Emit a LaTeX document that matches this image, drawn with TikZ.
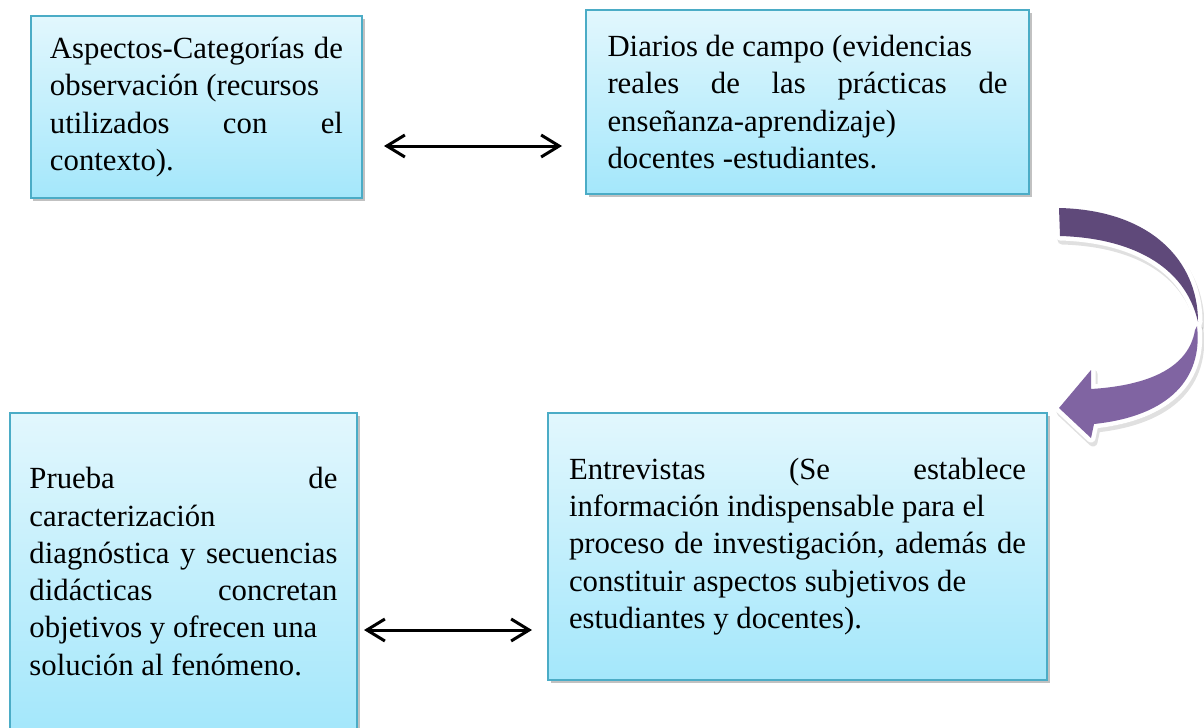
\documentclass[tikz,border=0pt]{standalone}
\usepackage{fontspec}
\setmainfont{Liberation Serif}
\usetikzlibrary{arrows.meta,shadows}
\definecolor{boxtop}{HTML}{E2F7FD}
\definecolor{boxbot}{HTML}{A4E7FB}
\definecolor{boxline}{HTML}{4BACC6}
\definecolor{purdark}{HTML}{5F497A}
\definecolor{purlight}{HTML}{8064A2}
\hyphenpenalty=10000
\begin{document}
\begin{tikzpicture}[x=0.2mm,y=-0.2mm,
  box/.style={rectangle, draw=boxline, line width=0.4mm, top color=boxtop, bottom color=boxbot,
    drop shadow={shadow xshift=0.5mm, shadow yshift=-0.6mm, opacity=0.35, fill=black!70},
    inner sep=0pt, align=justify, font=\fontsize{17.5}{21.2}\selectfont},
  link/.style={{Straight Barb[length=3.6mm,width=4.4mm]}-{Straight Barb[length=3.6mm,width=4.4mm]}, line width=0.6mm},
  curvearrow/.style={preaction={draw=white, line width=1.8mm, line join=round}},
  curveshadow/.style={draw=black, fill=black, line width=1.8mm, line join=round, opacity=0.12}]
\useasboundingbox (0,0) rectangle (1204,727);
\node [box, minimum width=66.2mm, minimum height=36.4mm, text width=58.6mm] (obs) at (196.5,107)
  {Aspectos-Categorías de\linebreak observación (recursos\newline utilizados con el\linebreak contexto).};
\node [box, minimum width=88.6mm, minimum height=36.8mm, text width=80mm] (diarios) at (807.5,102)
  {Diarios de campo (evidencias\newline reales de las prácticas de\linebreak enseñanza-aprendizaje)\newline docentes -estudiantes.};
\node [box, minimum width=69.4mm, minimum height=63.4mm, text width=61.6mm] (prueba) at (183.5,571.5)
  {Prueba de\linebreak caracterización\newline diagnóstica y secuencias\linebreak didácticas concretan\linebreak objetivos y ofrecen una\newline solución al fenómeno.};
\node [box, minimum width=99.8mm, minimum height=53.4mm, text width=91.4mm] (entrev) at (797.5,546.5)
  {Entrevistas (Se establece\linebreak información indispensable para el\newline proceso de investigación, además de\linebreak constituir aspectos subjetivos de\newline estudiantes y docentes).};
\draw [link, shorten <=4.2mm, shorten >=4.6mm] ([yshift=-7.8mm]obs.east) -- ([yshift=-7.8mm]obs.east -| diarios.west);
\draw [link, shorten <=1.2mm, shorten >=3mm] ([yshift=-11.7mm]prueba.east) -- ([yshift=-11.7mm]prueba.east -| entrev.west);
% curved arrow
\begin{scope}[shift={(2,4)}]
\filldraw [curveshadow] (1059,208) .. controls (1150,210) and (1198,260) .. (1198,322) .. controls (1185,265) and (1130,238) .. (1060,236) -- cycle;
\filldraw [curveshadow] (1197,326) .. controls (1203,378) and (1170,416) .. (1094,424) -- (1091,438) -- (1059,408) -- (1091,370) -- (1091,389) .. controls (1140,386) and (1188,372) .. (1195,330) -- cycle;
\end{scope}
\fill [curvearrow, fill=purdark] (1059,208) .. controls (1150,210) and (1198,260) .. (1198,322) .. controls (1185,265) and (1130,238) .. (1060,236) -- cycle;
\fill [curvearrow, fill=purlight] (1197,326) .. controls (1203,378) and (1170,416) .. (1094,424) -- (1091,438) -- (1059,408) -- (1091,370) -- (1091,389) .. controls (1140,386) and (1188,372) .. (1195,330) -- cycle;
\end{tikzpicture}
\end{document}
